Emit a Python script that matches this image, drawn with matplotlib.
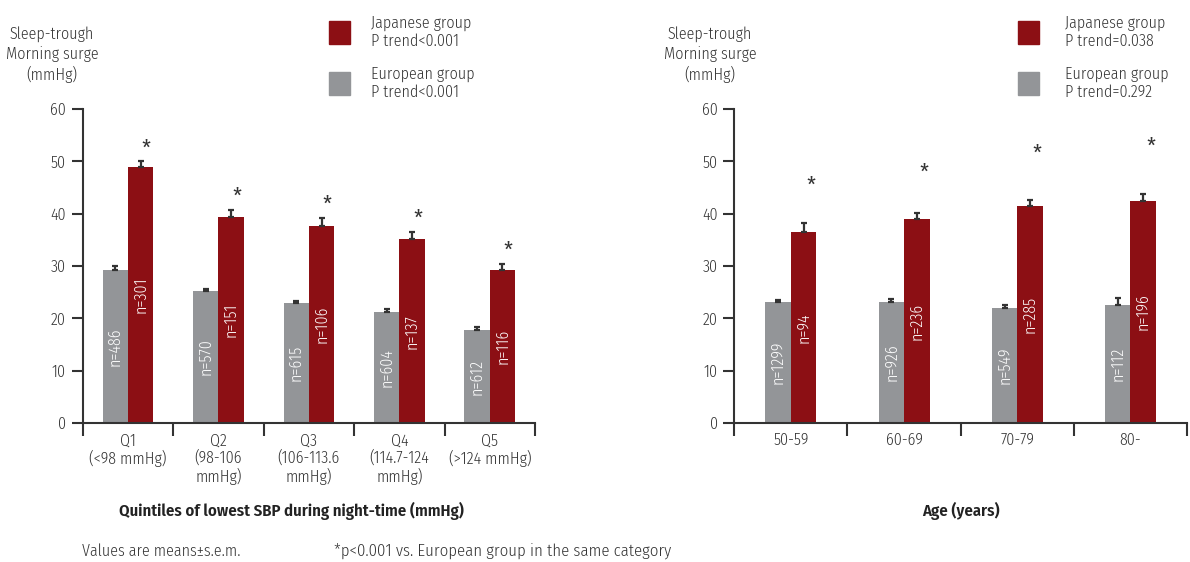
import numpy as np
import matplotlib

matplotlib.use("Agg")
import matplotlib.pyplot as plt

plt.rcParams["font.family"] = ["Fira Sans Condensed", "DejaVu Sans"]
plt.rcParams["font.weight"] = 300

RED = "#8c0f14"
GREY = "#939598"
INK = "#333333"

# quintiles of night-time lowest SBP
q_labels = ["Q1\n(<98 mmHg)", "Q2\n(98-106\nmmHg)", "Q3\n(106-113.6\nmmHg)",
            "Q4\n(114.7-124\nmmHg)", "Q5\n(>124 mmHg)"]
q_eu = [29.2, 25.2, 22.9, 21.3, 17.7]
q_eu_sem = [0.8, 0.4, 0.5, 0.5, 0.6]
q_jp = [48.9, 39.3, 37.6, 35.1, 29.2]
q_jp_sem = [1.1, 1.4, 1.6, 1.4, 1.2]
q_eu_n = [486, 570, 615, 604, 612]
q_jp_n = [301, 151, 106, 137, 116]
q_star = [52.2, 43.1, 41.5, 38.8, 32.7]
q_legend = ["Japanese group\nP trend<0.001", "European group\nP trend<0.001"]

# age groups
a_labels = ["50-59", "60-69", "70-79", "80-"]
a_eu = [23.05, 23.2, 21.9, 22.5]
a_eu_sem = [0.4, 0.5, 0.6, 1.3]
a_jp = [36.5, 39.0, 41.4, 42.4]
a_jp_sem = [1.8, 1.1, 1.2, 1.3]
a_eu_n = [1299, 926, 549, 112]
a_jp_n = [94, 236, 285, 196]
a_star = [45.1, 47.6, 51.3, 52.7]
a_legend = ["Japanese group\nP trend=0.038", "European group\nP trend=0.292"]

FS = 11.5
fig = plt.figure(figsize=(11.9, 5.62), dpi=100)


def panel(rect, labels, eu, eu_sem, jp, jp_sem, eu_n, jp_n, star, width, xlabel, xlabel_x):
    ax = fig.add_axes(rect)
    x = np.arange(len(labels))
    ax.bar(x - width / 2, eu, width, color=GREY, zorder=2)
    ax.bar(x + width / 2, jp, width, color=RED, zorder=2)
    ax.errorbar(x - width / 2, eu, yerr=[np.zeros(len(x)), eu_sem], fmt="none",
                ecolor=INK, elinewidth=1.6, capsize=2.3, capthick=1.6, zorder=3)
    ax.errorbar(x + width / 2, jp, yerr=[np.zeros(len(x)), jp_sem], fmt="none",
                ecolor=INK, elinewidth=1.6, capsize=2.3, capthick=1.6, zorder=3)
    for i in range(len(x)):
        ax.text(x[i] - width / 2, eu[i] / 2, f"n={eu_n[i]}", rotation=90, color="white",
                ha="center", va="center", fontsize=FS, zorder=4)
        ax.text(x[i] + width / 2, jp[i] / 2, f"n={jp_n[i]}", rotation=90, color="white",
                ha="center", va="center", fontsize=FS, zorder=4)
        ax.text(x[i] + width / 2 + 0.065, star[i], "*", ha="center", va="center",
                fontsize=16, color=INK, fontweight="normal")

    ax.set_xlim(-0.5, len(x) - 0.5)
    ax.set_ylim(0, 60)
    ax.set_yticks(range(0, 61, 10))
    ax.set_xticks(np.arange(len(x) + 1) - 0.5)
    ax.set_xticklabels([])
    ax.set_xticks(x, minor=True)
    ax.set_xticklabels(labels, minor=True, fontsize=FS, color=INK, linespacing=1.1)
    ax.tick_params(axis="x", which="major", direction="out", length=9, width=1.5, color=INK)
    ax.tick_params(axis="x", which="minor", length=0, pad=7)
    ax.tick_params(axis="y", direction="out", length=8, width=1.5, color=INK,
                   labelsize=FS, labelcolor=INK, pad=4)
    for s in ("top", "right"):
        ax.spines[s].set_visible(False)
    for s in ("left", "bottom"):
        ax.spines[s].set_linewidth(1.5)
        ax.spines[s].set_color(INK)
    fig.text(xlabel_x, 1 - 511 / 562, xlabel, ha="center", va="center",
             fontsize=12, fontweight="semibold", color="#222222")
    return ax


def legend_block(x_sq, x_txt, texts):
    for y_top, c, t in zip([21, 72], [RED, GREY], texts):
        fig.patches.append(plt.Rectangle((x_sq / 1190, 1 - (y_top + 23) / 562), 21 / 1190, 23 / 562,
                                         transform=fig.transFigure, color=c))
        fig.text(x_txt / 1190, 1 - (y_top + 11) / 562, t, ha="left", va="center",
                 fontsize=FS, color=INK, linespacing=1.15)


def ylabel_block(xc):
    fig.text(xc / 1190, 1 - 55 / 562, "Sleep-trough\nMorning surge\n(mmHg)", ha="center",
             va="center", fontsize=FS, color=INK, linespacing=1.3)


panel([82.7 / 1190, 1 - 423 / 562, 452.3 / 1190, 314 / 562], q_labels, q_eu, q_eu_sem, q_jp,
      q_jp_sem, q_eu_n, q_jp_n, q_star, 0.28,
      "Quintiles of lowest SBP during night-time (mmHg)", 291 / 1190)
panel([734.3 / 1190, 1 - 423 / 562, 452.7 / 1190, 314 / 562], a_labels, a_eu, a_eu_sem, a_jp,
      a_jp_sem, a_eu_n, a_jp_n, a_star, 0.225, "Age (years)", 961 / 1190)

legend_block(329, 371, q_legend)
legend_block(1018, 1065, a_legend)
ylabel_block(52)
ylabel_block(710)

fig.text(82 / 1190, 1 - 551 / 562, "Values are means\u00b1s.e.m.", ha="left", va="center",
         fontsize=FS, color=INK)
fig.text(334 / 1190, 1 - 551 / 562, "*p<0.001 vs. European group in the same category",
         ha="left", va="center", fontsize=12, color=INK)

fig.savefig("out.png", dpi=100)
